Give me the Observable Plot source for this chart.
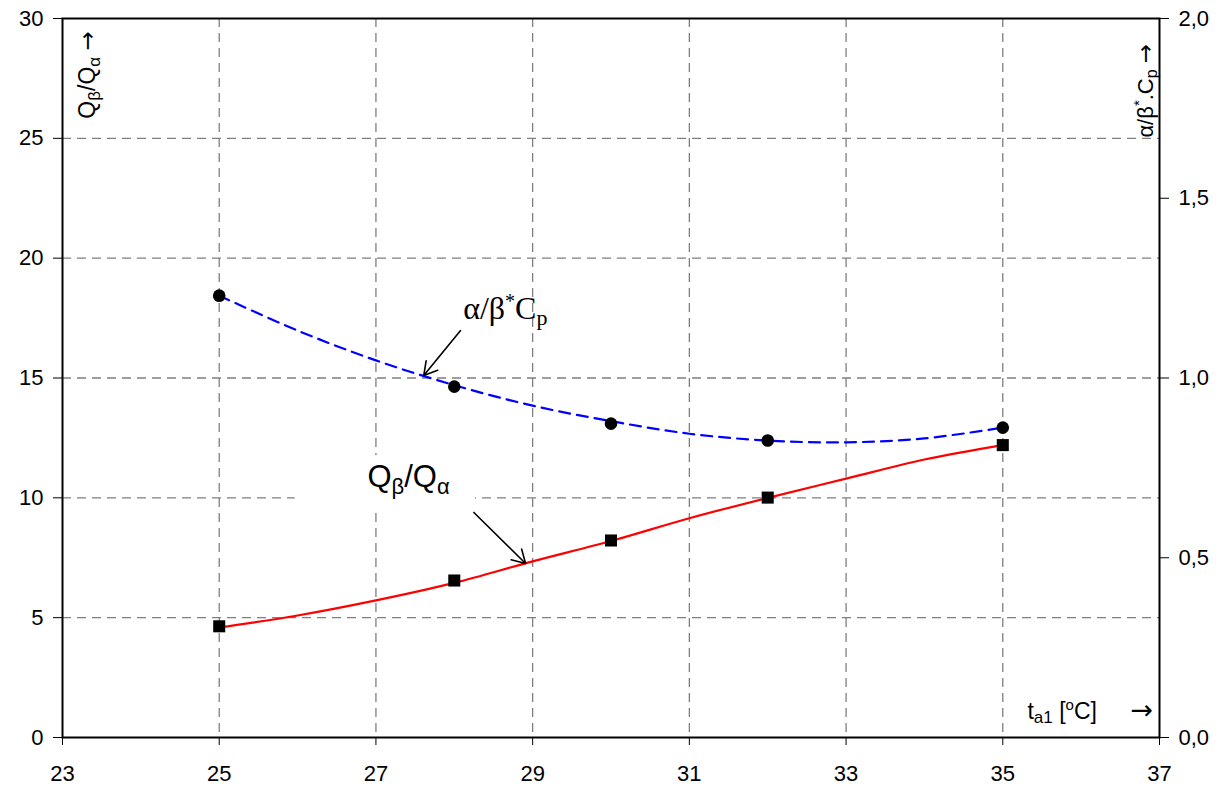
<!DOCTYPE html>
<html>
<head>
<meta charset="utf-8">
<script src="https://cdn.jsdelivr.net/npm/d3@7"></script>
<script src="https://cdn.jsdelivr.net/npm/@observablehq/plot@0.6"></script>
<style>
  html, body { margin: 0; padding: 0; background: white; }
</style>
</head>
<body>
<div id="chart"></div>
<script>
// ---- data ----
const xTicks = [23, 25, 27, 29, 31, 33, 35, 37];
const yTicksLeft = [0, 5, 10, 15, 20, 25, 30];
const yTicksRight = [0, 0.5, 1.0, 1.5, 2.0];
const rightTickLabels = ["0,0", "0,5", "1,0", "1,5", "2,0"];
const gridX = [25, 27, 29, 31, 33, 35];
const gridY = [5, 10, 15, 20, 25];
const leftMax = 30;
const rightMax = 2.0;

// measured points
const temps = [25, 28, 30, 32, 35];
const qRatio = [4.64, 6.55, 8.22, 10.01, 12.2];          // Qβ/Qα (left axis)
const alphaBetaCp = [1.229, 0.976, 0.873, 0.826, 0.862];  // α/β*Cp (right axis)

// trend lines
const trendT = [25, 26, 27, 28, 29, 30, 31, 32, 33, 34, 35];
const qTrend = [4.59, 5.09, 5.72, 6.45, 7.35, 8.2, 9.15, 10.0, 10.8, 11.6, 12.2];
const abTrend = [1.229, 1.132, 1.049, 0.98, 0.923, 0.88, 0.845, 0.826, 0.821, 0.832, 0.862];

const k = leftMax / rightMax; // right-axis units -> left-axis units

const pts = temps.map((t, i) => ({t, q: qRatio[i], ab: alphaBetaCp[i]}));
const trend = trendT.map((t, i) => ({t, q: qTrend[i], ab: abTrend[i]}));
const rightLabel = new Map(yTicksRight.map((v, i) => [v * k, rightTickLabels[i]]));

const grid = {stroke: "#7f7f7f", strokeWidth: 1.3, strokeDasharray: "9,6"};

const plot = Plot.plot({
  width: 1227,
  height: 791,
  marginLeft: 62,
  marginRight: 68,
  marginTop: 18,
  marginBottom: 54,
  x: {domain: [23, 37]},
  y: {domain: [0, leftMax]},
  style: {fontFamily: "'Liberation Sans', Arial, sans-serif", fontSize: "22px", background: "white", color: "black"},
  marks: [
    Plot.ruleY(gridY, grid),
    Plot.ruleX(gridX, grid),
    // white label box behind the Qβ/Qα annotation
    Plot.rect([{x1: 25.97, x2: 28.27, y1: 9.39, y2: 11.76}], {x1: "x1", x2: "x2", y1: "y1", y2: "y2", fill: "white"}),
    Plot.line(trend, {x: "t", y: d => d.ab * k, stroke: "#0000ff", strokeWidth: 2.2, strokeDasharray: "11,7", curve: "catmull-rom"}),
    Plot.line(trend, {x: "t", y: "q", stroke: "#ff0000", strokeWidth: 2.2, curve: "catmull-rom"}),
    Plot.dot(pts, {x: "t", y: d => d.ab * k, r: 6.3, fill: "black", symbol: "circle"}),
    Plot.dot(pts, {x: "t", y: "q", r: 6.8, fill: "black", symbol: "square"}),
    Plot.arrow([{x1: 28.08, y1: 16.98, x2: 27.61, y2: 15.1}], {x1: "x1", y1: "y1", x2: "x2", y2: "y2", stroke: "black", strokeWidth: 1.6, headLength: 14}),
    Plot.arrow([{x1: 28.25, y1: 9.39, x2: 28.91, y2: 7.26}], {x1: "x1", y1: "y1", x2: "x2", y2: "y2", stroke: "black", strokeWidth: 1.6, headLength: 14}),
    Plot.frame({stroke: "black", strokeWidth: 2}),
    Plot.axisX(xTicks, {anchor: "bottom", tickSize: 8, tickPadding: 20, label: null, tickFormat: d => String(d)}),
    Plot.axisY(yTicksLeft, {anchor: "left", tickSize: 9, tickPadding: 10, label: null, tickFormat: d => String(d)}),
    Plot.axisY(yTicksRight.map(v => v * k), {anchor: "right", tickSize: 9, tickPadding: 10, label: null, tickFormat: d => rightLabel.get(d)}),
    // annotations (placeholders, rich-formatted below)
    Plot.text(["@AB"], {x: 28.113, y: 17.48, text: d => d, textAnchor: "start", lineAnchor: "bottom", fontFamily: "'Liberation Serif', 'Times New Roman', serif", fontSize: 32}),
    Plot.text(["@Q"], {x: 26.892, y: 10.47, text: d => d, textAnchor: "start", lineAnchor: "bottom", fontSize: 31}),
    Plot.text(["@LY"], {x: 23.421, y: 25.82, text: d => d, rotate: -90, textAnchor: "start", lineAnchor: "bottom", fontSize: 23}),
    Plot.text(["@RY"], {x: 36.923, y: 25.03, text: d => d, rotate: -90, textAnchor: "start", lineAnchor: "bottom", fontSize: 22}),
    Plot.text(["@X"], {x: 35.315, y: 0.79, text: d => d, textAnchor: "start", lineAnchor: "bottom", fontSize: 23}),
    Plot.text(["→"], {x: 36.63, y: 0.78, text: d => d, textAnchor: "start", lineAnchor: "bottom", fontFamily: "'DejaVu Sans', sans-serif", fontSize: 27})
  ]
});

const ARROW = "'DejaVu Sans', sans-serif";

function rich(svg, key, parts, subShift, supShift) {
  d3.select(svg).selectAll("text").filter(function () { return this.textContent === key; }).each(function () {
    const t = d3.select(this);
    t.text(null);
    let shift = 0;
    for (const [s, kind, fs, fam] of parts) {
      const sp = t.append("tspan").text(s);
      const target = kind === "sub" ? subShift : kind === "sup" ? -supShift : 0;
      sp.attr("dy", target - shift);
      shift = target;
      if (fs) sp.attr("font-size", fs);
      if (fam) sp.attr("font-family", fam);
    }
  });
}

rich(plot, "@AB", [["α/β"], ["*", "sup", 20], ["C"], ["p", "sub", 22]], 6, 11);
rich(plot, "@Q", [["Q"], ["β", "sub", 22], ["/Q"], ["α", "sub", 22]], 7, 0);
rich(plot, "@LY", [["Q"], ["β", "sub", 17], ["/Q"], ["α", "sub", 17], [" "], ["→", null, 23, ARROW]], 5, 0);
rich(plot, "@RY", [["α/β"], ["*", "sup", 15], [".C"], ["p", "sub", 16], [" "], ["→", null, 23, ARROW]], 4, 9);
rich(plot, "@X", [["t"], ["a1", "sub", 17], [" ["], ["o", "sup", 15], ["C]"]], 4, 9);

document.getElementById("chart").appendChild(plot);
</script>
</body>
</html>
